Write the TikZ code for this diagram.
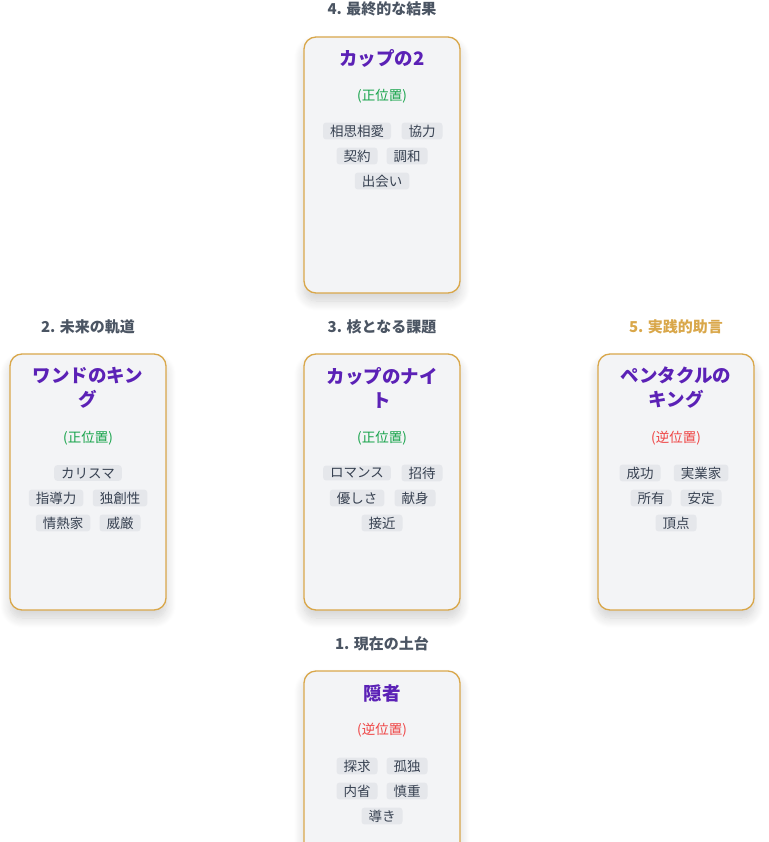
\documentclass[tikz,border=0pt]{standalone}
\usepackage{fontspec}
\setmainfont{Noto Sans CJK JP}
\usetikzlibrary{shadows.blur}
\definecolor{gold}{HTML}{D9A74A}
\definecolor{cardbg}{HTML}{F3F4F6}
\definecolor{ttl}{HTML}{5B21B6}
\definecolor{hd}{HTML}{4B5563}
\definecolor{up}{HTML}{16A34A}
\definecolor{rev}{HTML}{EF4444}
\definecolor{tagbg}{HTML}{E5E7EB}
\definecolor{tagfg}{HTML}{374151}
\tikzset{
 card/.style={draw=gold,line width=1.3pt,fill=cardbg,rounded corners=12pt,minimum width=156pt,minimum height=256pt,inner sep=0pt,blur shadow={shadow blur steps=12,shadow blur radius=10pt,shadow xshift=0pt,shadow yshift=-8pt,shadow opacity=18}},
 head/.style={font=\bfseries\fontsize{15}{18}\selectfont,text=hd},
 ttlst/.style={font=\bfseries\fontsize{18.5}{24}\selectfont,text=ttl,align=center},
 st/.style={font=\fontsize{13.5}{16}\selectfont},
 tagst/.style={fill=tagbg,text=tagfg,rounded corners=3pt,font=\fontsize{13.5}{16}\selectfont,inner xsep=7pt,inner ysep=2.2pt}
}
\newcommand{\tgx}[4]{\node[tagst] (#1) at (#2,#3) {#4};}
\begin{document}
\begin{tikzpicture}[x=1pt,y=-1pt]
\useasboundingbox (0,0) rectangle (768,842);
% card 4
\node[head] (h4) at (382,9) {4. 最終的な結果};
\node[card] (c4) at (382,165) {};
\node[ttlst] (t4) at (382,58) {カップの2};
\node[st,text=up] (s4) at (382,96) {(正位置)};
\tgx{a1}{357}{131}{相思相愛}\tgx{a2}{422}{131}{協力}
\tgx{a3}{357}{156}{契約}\tgx{a4}{407}{156}{調和}
\tgx{a5}{382}{181}{出会い}
% card 2
\node[head] (h2) at (88,327) {2. 未来の軌道};
\node[card] (c2) at (88,482) {};
\node[ttlst] (t2) at (88,388) {ワンドのキン\\グ};
\node[st,text=up] (s2) at (88,438) {(正位置)};
\tgx{b1}{88}{473}{カリスマ}
\tgx{b2}{56}{498}{指導力}\tgx{b3}{120}{498}{独創性}
\tgx{b4}{63}{523}{情熱家}\tgx{b5}{120}{523}{威厳}
% card 3
\node[head] (h3) at (382,327) {3. 核となる課題};
\node[card] (c3) at (382,482) {};
\node[ttlst] (t3) at (382,388) {カップのナイ\\ト};
\node[st,text=up] (s3) at (382,438) {(正位置)};
\tgx{d1}{357}{473}{ロマンス}\tgx{d2}{422}{473}{招待}
\tgx{d3}{357}{498}{優しさ}\tgx{d4}{415}{498}{献身}
\tgx{d5}{382}{523}{接近}
% card 5
\node[head,text=gold] (h5) at (676,327) {5. 実践的助言};
\node[card] (c5) at (676,482) {};
\node[ttlst] (t5) at (676,388) {ペンタクルの\\キング};
\node[st,text=rev] (s5) at (676,438) {(逆位置)};
\tgx{e1}{640}{473}{成功}\tgx{e2}{701}{473}{実業家}
\tgx{e3}{651}{498}{所有}\tgx{e4}{701}{498}{安定}
\tgx{e5}{676}{523}{頂点}
% card 1
\node[head] (h1) at (382,644) {1. 現在の土台};
\node[card] (c1) at (382,799) {};
\node[ttlst] (t1) at (382,693) {隠者};
\node[st,text=rev] (s1) at (382,730) {(逆位置)};
\tgx{f1}{357}{766}{探求}\tgx{f2}{407}{766}{孤独}
\tgx{f3}{357}{791}{内省}\tgx{f4}{407}{791}{慎重}
\tgx{f5}{382}{816}{導き}
\end{tikzpicture}
\end{document}
